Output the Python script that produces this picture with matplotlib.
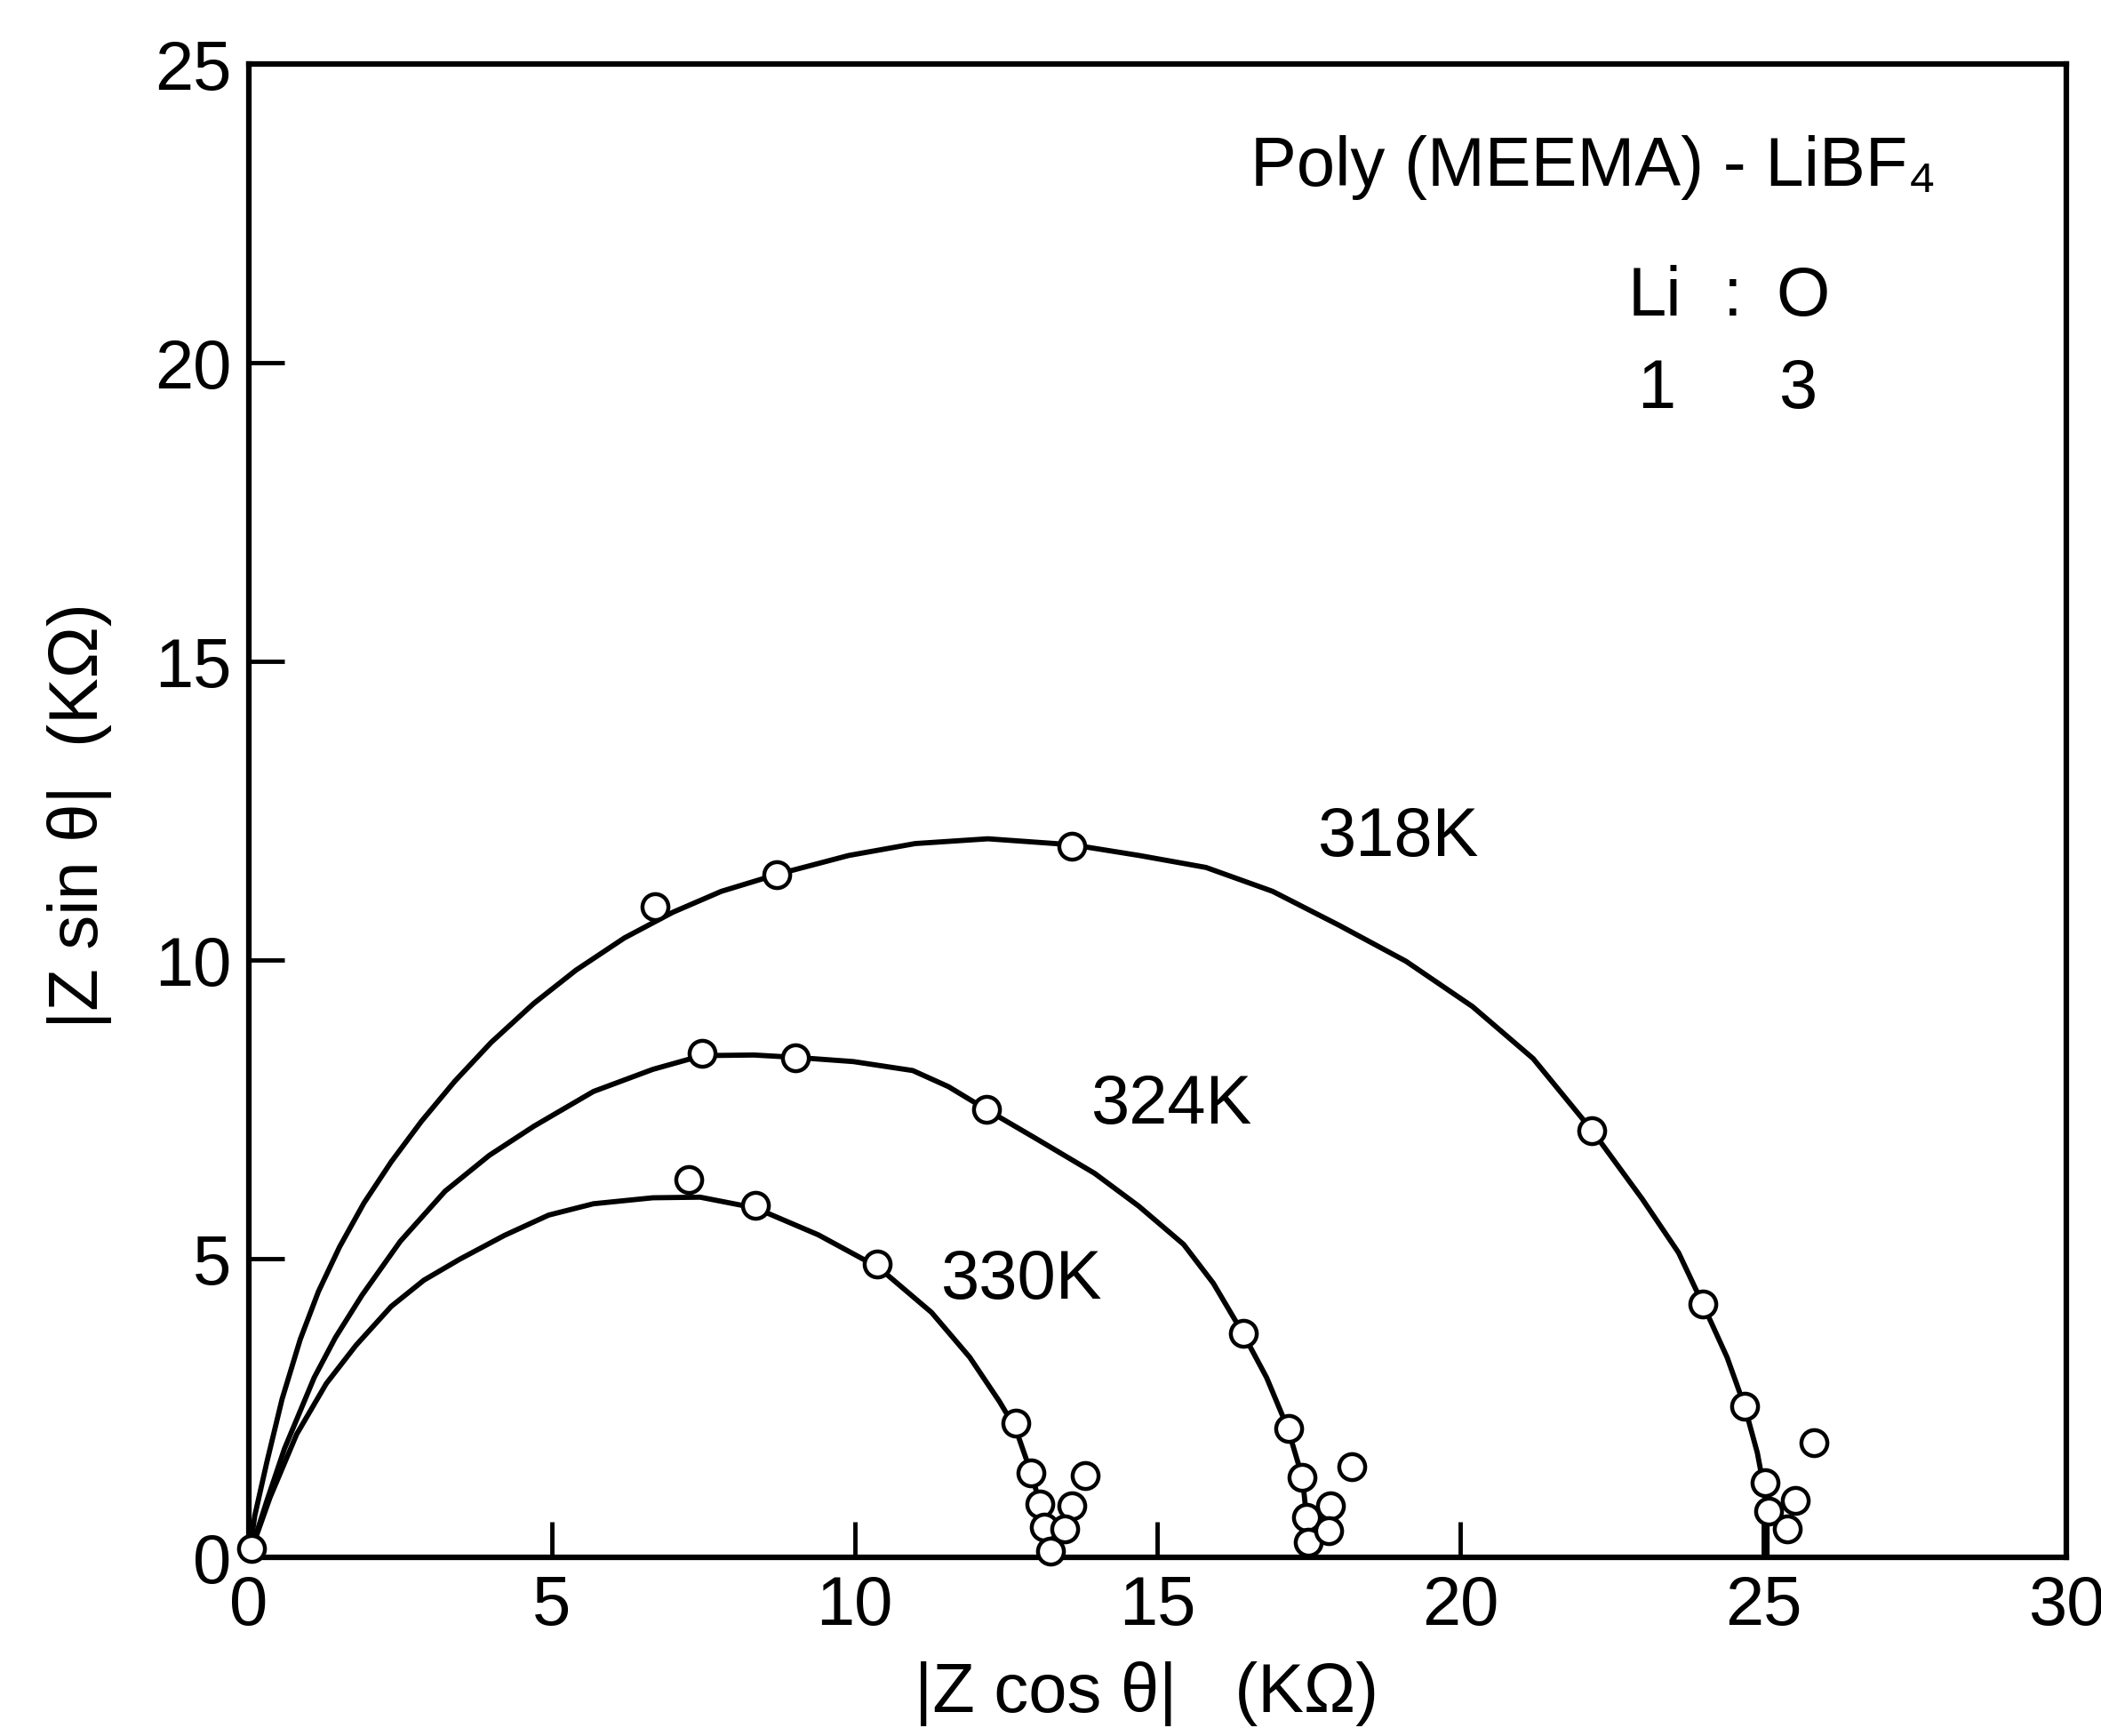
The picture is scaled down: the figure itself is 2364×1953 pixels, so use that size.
import matplotlib
matplotlib.use("Agg")
import matplotlib.pyplot as plt

plt.rcParams['font.family'] = ['Liberation Sans', 'DejaVu Sans']

# measured points, |Z cos| and |Z sin| in kOhm
x318 = [6.70, 8.72, 13.59, 22.17, 24.00, 24.69, 25.03, 25.08, 25.52, 25.40, 25.84]
y318 = [10.90, 11.43, 11.91, 7.15, 4.24, 2.53, 1.25, 0.77, 0.95, 0.48, 1.92]
x324 = [7.48, 9.03, 12.17, 16.41, 17.17, 17.39, 17.46, 17.49, 17.85, 17.83, 18.20]
y324 = [8.44, 8.37, 7.50, 3.75, 2.16, 1.34, 0.67, 0.25, 0.87, 0.45, 1.52]
x330 = [7.27, 8.36, 10.37, 12.66, 12.91, 13.06, 13.13, 13.23, 13.81, 13.59, 13.47]
y330 = [6.33, 5.90, 4.91, 2.25, 1.42, 0.90, 0.50, 0.10, 1.37, 0.87, 0.48]
x_origin = [0.05]
y_origin = [0.15]

# drawn curves
c318x = [0.0, 0.10, 0.30, 0.55, 0.85, 1.15, 1.50, 1.90, 2.35, 2.85, 3.40, 4.00, 4.70,
         5.40, 6.20, 7.00, 7.80, 8.74, 9.90, 11.0, 12.2, 13.59, 14.7, 15.8, 16.9, 18.0,
         19.1, 20.2, 21.2, 22.17, 23.0, 23.6, 24.0, 24.4, 24.69, 24.9, 25.02, 25.06, 25.06]
c318y = [0.0, 0.70, 1.60, 2.65, 3.65, 4.45, 5.20, 5.93, 6.62, 7.30, 7.97, 8.62, 9.27,
         9.83, 10.37, 10.80, 11.15, 11.44, 11.75, 11.95, 12.03, 11.93, 11.75, 11.55, 11.15, 10.58,
         9.98, 9.22, 8.35, 7.15, 6.00, 5.10, 4.24, 3.35, 2.53, 1.75, 1.10, 0.50, 0.0]
c324x = [0.0, 0.30, 0.59, 1.08, 1.43, 1.87, 2.50, 3.24, 3.97, 4.71, 5.69, 6.67, 7.48, 8.34,
         9.03, 9.98, 10.96, 11.55, 12.17, 12.98, 13.96, 14.69, 15.43, 15.92, 16.41, 16.80,
         17.15, 17.39, 17.46, 17.47]
c324y = [0.0, 0.95, 1.82, 3.01, 3.68, 4.39, 5.29, 6.13, 6.73, 7.22, 7.80, 8.17, 8.40, 8.41,
         8.37, 8.30, 8.15, 7.88, 7.50, 7.02, 6.43, 5.88, 5.24, 4.59, 3.75, 3.01,
         2.16, 1.34, 0.67, 0.0]
c330x = [0.0, 0.35, 0.79, 1.28, 1.77, 2.35, 2.89, 3.48, 4.22, 4.95, 5.69, 6.67, 7.45, 8.36,
         9.40, 10.40, 11.27, 11.90, 12.39, 12.66, 12.91, 13.06, 13.13, 13.18]
c330y = [0.0, 1.00, 2.06, 2.91, 3.55, 4.20, 4.64, 4.99, 5.39, 5.73, 5.92, 6.02, 6.03, 5.85,
         5.40, 4.85, 4.10, 3.35, 2.61, 2.15, 1.42, 0.90, 0.50, 0.0]

labels = ["318K", "324K", "330K"]
label_pos = [(18.96, 12.04), (15.23, 7.57), (12.74, 4.63)]

fig = plt.figure(figsize=(23.64, 19.53), dpi=100)
ax = fig.add_axes([0.1184, 0.1029, 0.8651, 0.8602])

for cx, cy in [(c318x, c318y), (c324x, c324y), (c330x, c330y)]:
    ax.plot(cx, cy, color='black', lw=4.2, solid_capstyle='round',
            solid_joinstyle='round', zorder=2)

for px, py in [(x318, y318), (x324, y324), (x330, y330), (x_origin, y_origin)]:
    ax.plot(px, py, 'o', ms=21, mfc='white', mec='black', mew=3.2,
            linestyle='none', clip_on=False, zorder=3)

for lab, (lx, ly) in zip(labels, label_pos):
    ax.text(lx, ly, lab, fontsize=56, ha='center', va='center')

ax.text(16.54, 23.27, "Poly (MEEMA) - LiBF₄", fontsize=56, ha='left', va='center')
ax.text(23.2, 21.09, "Li", fontsize=56, ha='center', va='center')
ax.text(24.5, 21.09, ":", fontsize=56, ha='center', va='center')
ax.text(25.65, 21.09, "O", fontsize=56, ha='center', va='center')
ax.text(23.24, 19.55, "1", fontsize=56, ha='center', va='center')
ax.text(25.56, 19.55, "3", fontsize=56, ha='center', va='center')

ax.set_xlim(0, 30)
ax.set_ylim(0, 25)
ax.set_xticks([0, 5, 10, 15, 20, 25, 30])
ax.set_yticks([0, 5, 10, 15, 20, 25])
ax.tick_params(direction='in', length=29, width=3.5, labelsize=56, pad=14,
               top=False, right=False)
for sp in ax.spines.values():
    sp.set_linewidth(4.5)

fig.text(1290 / 2364, 1 - 1905 / 1953, "|Z cos θ|   (KΩ)", fontsize=56,
         ha='center', va='center')
fig.text(90 / 2364, 1 - 918 / 1953, "|Z sin θ|  (KΩ)", fontsize=56,
         ha='center', va='center', rotation=90)

fig.savefig("out.png", dpi=100)
